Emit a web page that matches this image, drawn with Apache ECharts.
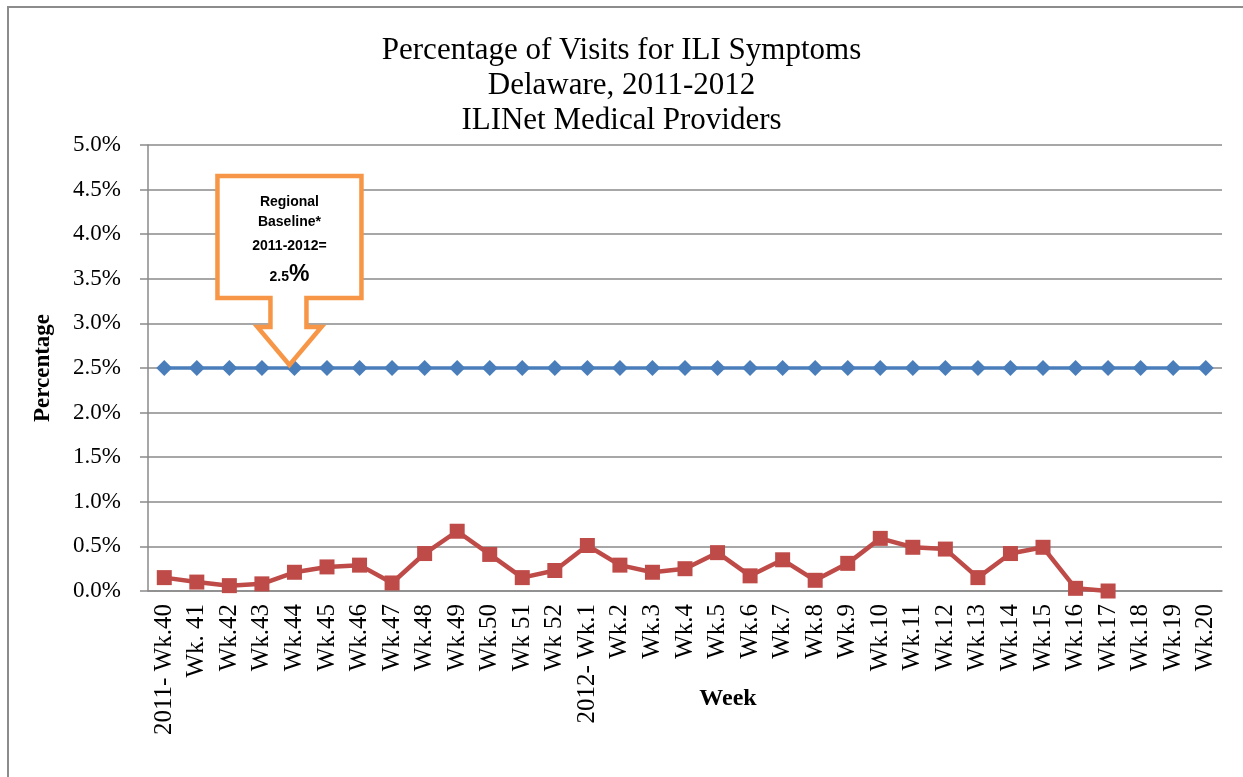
<!DOCTYPE html>
<html>
<head>
<meta charset="utf-8">
<title>Percentage of Visits for ILI Symptoms</title>
<script src="https://cdn.jsdelivr.net/npm/echarts@6/dist/echarts.min.js"></script>
<style>
  html, body { margin: 0; padding: 0; background: #fff; }
  #chart { width: 1243px; height: 777px; }
</style>
</head>
<body>
<div id="chart"></div>
<script>
// week labels, 2011 wk 40 -> 2012 wk 20
const weeks = [
  '2011- Wk.40', 'Wk. 41', 'Wk.42', 'Wk.43', 'Wk.44', 'Wk.45', 'Wk.46', 'Wk.47',
  'Wk.48', 'Wk.49', 'Wk.50', 'Wk 51', 'Wk 52', '2012- Wk.1', 'Wk.2', 'Wk.3',
  'Wk.4', 'Wk.5', 'Wk.6', 'Wk.7', 'Wk.8', 'Wk.9', 'Wk.10', 'Wk.11', 'Wk.12',
  'Wk.13', 'Wk.14', 'Wk.15', 'Wk.16', 'Wk.17', 'Wk.18', 'Wk.19', 'Wk.20'
];

// percent of visits (in %)
const baseline = [
  2.5, 2.5, 2.5, 2.5, 2.5, 2.5, 2.5, 2.5, 2.5, 2.5, 2.5, 2.5, 2.5, 2.5, 2.5, 2.5,
  2.5, 2.5, 2.5, 2.5, 2.5, 2.5, 2.5, 2.5, 2.5, 2.5, 2.5, 2.5, 2.5, 2.5, 2.5, 2.5, 2.5
];
const iliVisits = [
  0.15, 0.10, 0.06, 0.08, 0.21, 0.27, 0.29, 0.09, 0.42, 0.67, 0.41, 0.15, 0.23,
  0.51, 0.29, 0.21, 0.25, 0.43, 0.17, 0.35, 0.12, 0.31, 0.59, 0.49, 0.47, 0.15,
  0.42, 0.49, 0.03, 0.0, null, null, null
];

const yMin = 0;
const yMax = 5;
const yStep = 0.5;

const serif = '"Liberation Serif", "Times New Roman", serif';
const sans = '"Liberation Sans", Arial, sans-serif';
const gridGray = '#8a8a8a';

const myChart = echarts.init(document.getElementById('chart'));

const option = {
  backgroundColor: '#fff',
  animation: false,
  title: {
    text: 'Percentage of Visits for ILI Symptoms\nDelaware, 2011-2012\nILINet Medical Providers',
    left: 'center',
    top: 28,
    textStyle: {
      fontFamily: serif,
      fontWeight: 'normal',
      fontSize: 31,
      lineHeight: 35,
      color: '#000'
    }
  },
  grid: {
    left: 148,
    right: 21,
    top: 145,
    bottom: 186
  },
  xAxis: {
    type: 'category',
    data: weeks,
    boundaryGap: true,
    name: 'Week',
    nameLocation: 'middle',
    nameGap: 96,
    nameMoveOverlap: false,
    nameTextStyle: {
      fontFamily: serif,
      fontWeight: 'bold',
      fontSize: 24,
      color: '#000',
      padding: [0, 0, 0, 86]
    },
    axisLine: { lineStyle: { color: gridGray, width: 1.5 } },
    axisTick: { length: 7, lineStyle: { color: gridGray, width: 1.5 } },
    axisLabel: {
      interval: 0,
      rotate: 90,
      margin: 13,
      fontFamily: serif,
      fontSize: 25,
      color: '#000'
    }
  },
  yAxis: {
    type: 'value',
    min: yMin,
    max: yMax,
    interval: yStep,
    name: 'Percentage',
    nameLocation: 'middle',
    nameGap: 93,
    nameTextStyle: {
      fontFamily: serif,
      fontWeight: 'bold',
      fontSize: 23,
      color: '#000'
    },
    axisLine: { show: true, lineStyle: { color: gridGray, width: 1.5 } },
    axisTick: { show: true, length: 8, lineStyle: { color: gridGray, width: 1.5 } },
    splitLine: { lineStyle: { color: gridGray, width: 1.5 } },
    axisLabel: {
      margin: 27,
      fontFamily: serif,
      fontSize: 23,
      color: '#000',
      formatter: (v) => v.toFixed(1) + '%'
    }
  },
  series: [
    {
      name: 'Regional Baseline',
      type: 'line',
      data: baseline,
      symbol: 'diamond',
      symbolSize: 16,
      color: '#4a7ebb',
      lineStyle: { width: 3.5, color: '#4a7ebb' },
      itemStyle: { color: '#4a7ebb' },
      z: 3
    },
    {
      name: 'ILI Visits',
      type: 'line',
      data: iliVisits,
      symbol: 'rect',
      symbolSize: 15,
      color: '#be4b48',
      lineStyle: { width: 4.5, color: '#be4b48' },
      itemStyle: { color: '#be4b48' },
      z: 4
    }
  ]
};

myChart.setOption(option);

// callout pointing at the baseline on Wk.44
const p = myChart.convertToPixel({ gridIndex: 0 }, ['Wk.44', 2.5]);
const tx = p[0] - 5;
const ty = p[1] - 3;
const calloutPts = [
  [-72, -189], [72, -189], [72, -67], [17, -67], [17, -38], [32, -38],
  [0, 0], [-32, -38], [-19, -38], [-19, -67], [-72, -67]
].map((d) => [tx + d[0], ty + d[1]]);

const calloutLines = ['Regional', 'Baseline*', '2011-2012='];
const calloutOffsets = [-163, -143, -119];

const graphics = [
  {
    // outer frame of the chart area
    type: 'polyline',
    shape: { points: [[8, 777], [8, 7], [1243, 7]] },
    style: { stroke: '#8c8c8c', lineWidth: 2, fill: null },
    silent: true
  },
  {
    type: 'polygon',
    shape: { points: calloutPts },
    style: { fill: '#fff', stroke: '#f79646', lineWidth: 4.5, lineJoin: 'miter' },
    z: 10
  }
];
calloutLines.forEach((t, i) => {
  graphics.push({
    type: 'text',
    x: tx,
    y: ty + calloutOffsets[i],
    style: {
      text: t,
      font: 'bold 14px ' + sans,
      fill: '#000',
      align: 'center',
      verticalAlign: 'middle'
    },
    z: 11
  });
});
graphics.push({
  type: 'text',
  x: tx,
  y: ty - 90,
  style: {
    text: '{a|2.5}{b|%}',
    align: 'center',
    verticalAlign: 'middle',
    rich: {
      a: { font: 'bold 14px ' + sans, fill: '#000', verticalAlign: 'bottom', padding: [0, 0, 2, 0] },
      b: { font: 'bold 23px ' + sans, fill: '#000', verticalAlign: 'bottom' }
    }
  },
  z: 11
});

myChart.setOption({ graphic: graphics });
</script>
</body>
</html>
